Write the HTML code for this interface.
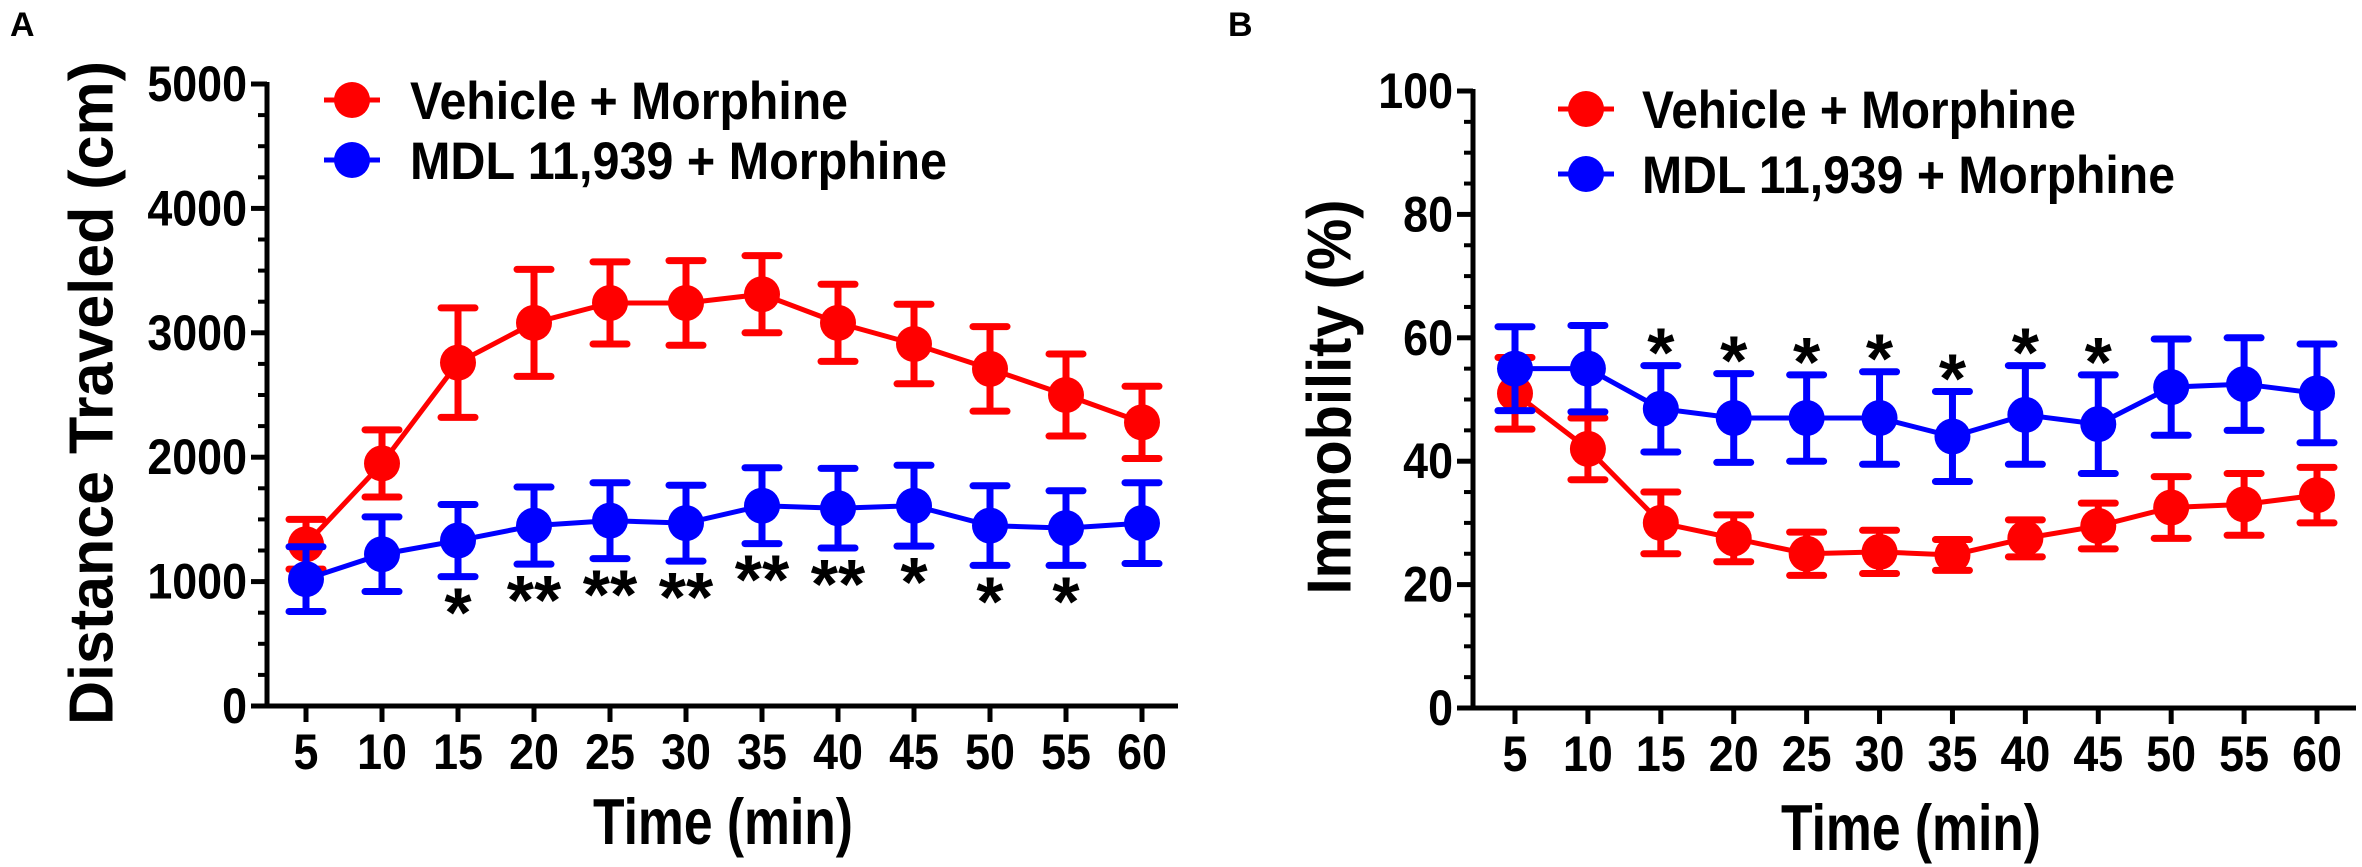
<!DOCTYPE html>
<html><head><meta charset="utf-8"><style>
html,body{margin:0;padding:0;background:#fff;}
svg{display:block;font-family:"Liberation Sans",Arial,sans-serif;font-weight:bold;}
</style></head><body>
<svg id="chart" width="2362" height="867" viewBox="0 0 2362 867"></svg>
<script>
const times=[5,10,15,20,25,30,35,40,45,50,55,60];
const distVehicle=[1300,1950,2760,3080,3240,3240,3310,3080,2910,2710,2500,2280];
const distVehicleErr=[200,270,440,430,330,340,310,310,320,340,330,290];
const distMdl=[1020,1220,1330,1450,1490,1470,1610,1590,1610,1450,1430,1470];
const distMdlErr=[260,300,290,310,305,305,305,320,325,320,300,325];
const distStars=["","","*","**","**","**","**","**","*","*","*",""];
const distTicks=[0,1000,2000,3000,4000,5000];
const immVehicle=[51,42,30,27.5,25,25.3,24.8,27.5,29.5,32.5,33,34.5];
const immVehicleErr=[5.8,5,5,3.8,3.5,3.5,2.5,3,3.7,5,5,4.5];
const immMdl=[55,55,48.5,47,47,47,44,47.5,46,52,52.5,51];
const immMdlErr=[6.8,7,7,7.2,7,7.5,7.3,8,8,7.8,7.5,8];
const immStars=["","","*","*","*","*","*","*","*","","",""];
const immTicks=[0,20,40,60,80,100];

const NS="http://www.w3.org/2000/svg";
const svg=document.getElementById('chart');
function mk(tag,attrs,parent,text){const e=document.createElementNS(NS,tag);for(const k in attrs)e.setAttribute(k,attrs[k]);if(text!==undefined)e.textContent=text;(parent||svg).appendChild(e);return e;}

function panel(cfg){
  const g=mk('g',{});
  
  
  const xs=t=>cfg.x0+(t-5)*(cfg.x1-cfg.x0)/55;
  const ys=v=>cfg.yb-(v/cfg.ymax)*(cfg.yb-cfg.yt);
  const ya=mk('line',{x1:cfg.ax,y1:cfg.yt-2,x2:cfg.ax,y2:cfg.yb+2.5,stroke:'#000','stroke-width':5},g);
  
  
  const xa=mk('line',{x1:cfg.ax-2.5,y1:cfg.yb,x2:cfg.xend,y2:cfg.yb,stroke:'#000','stroke-width':5},g);
  
  
  const minorStep=cfg.ymax/20;
  for(let i=0;i<=20;i++){const v=i*minorStep;const y=ys(v);const major=i%4===0;
    mk('line',{x1:cfg.ax-(major?16:9),y1:y,x2:cfg.ax,y2:y,stroke:'#000','stroke-width':major?5:4},g);}
  cfg.ticks.forEach(v=>{const t=mk('text',{x:0,y:0,'text-anchor':'end','font-size':40,transform:`translate(${cfg.ax-20},${ys(v)+17}) scale(1.12,1.25)`},g,String(v));
    
    });
  times.forEach(t=>{const x=xs(t);mk('line',{x1:x,y1:cfg.yb,x2:x,y2:cfg.yb+16,stroke:'#000','stroke-width':5},g);
    const l=mk('text',{x:0,y:0,'text-anchor':'middle','font-size':40,transform:`translate(${x},${cfg.yb+63}) scale(1.12,1.25)`},g,String(t));
    
    });
  const xt=mk('text',{x:0,y:0,'text-anchor':'middle','font-size':50,textLength:260,lengthAdjust:'spacingAndGlyphs',transform:`translate(${cfg.xtx},${cfg.xty+2}) scale(1,1.3)`},g,'Time (min)');
  
  
  const yt=mk('text',{x:0,y:0,'text-anchor':'middle','font-size':cfg.ytf,textLength:cfg.ytl,lengthAdjust:'spacingAndGlyphs',transform:`translate(${cfg.ytx},${cfg.yty}) rotate(-90)`,'dominant-baseline':'central'},g,cfg.ytitle);
  
  
  function series(vals,errs,col,nm){
    const sg=mk('g',{},g);
    
    
    mk('polyline',{points:vals.map((v,i)=>xs(times[i])+','+ys(v)).join(' '),fill:'none',stroke:col,'stroke-width':5},sg);
    vals.forEach((v,i)=>{const x=xs(times[i]);const hi=ys(v+errs[i]),lo=ys(v-errs[i]);
      mk('line',{x1:x,y1:hi,x2:x,y2:lo,stroke:col,'stroke-width':7},sg);
      mk('line',{x1:x-17,y1:hi,x2:x+17,y2:hi,stroke:col,'stroke-width':7,'stroke-linecap':'round'},sg);
      mk('line',{x1:x-17,y1:lo,x2:x+17,y2:lo,stroke:col,'stroke-width':7,'stroke-linecap':'round'},sg);
      const c=mk('circle',{cx:x,cy:ys(v),r:18,fill:col},sg);
      
      });
  }
  series(cfg.red,cfg.redErr,'#ff0000','vehicle-series');
  series(cfg.blue,cfg.blueErr,'#0000ff','mdl-series');
  cfg.stars.forEach((s,i)=>{if(!s)return;const v=cfg.blue[i];const e=cfg.blueErr[i];
    const y=cfg.starsBelow?ys(v-e)+33:ys(v+e)-16;
    const st=mk('text',{x:xs(times[i]),y:y+27,'text-anchor':'middle','font-size':70},g,s);
    
    });
  [[cfg.leg1y,'#ff0000','Vehicle + Morphine',cfg.lw1],[cfg.leg2y,'#0000ff','MDL 11,939 + Morphine',cfg.lw2]].forEach(([y,col,txt,w])=>{
    const lg=mk('g',{},g);
    
    
    mk('line',{x1:cfg.legx-28,y1:y,x2:cfg.legx+28,y2:y,stroke:col,'stroke-width':5},lg);
    mk('circle',{cx:cfg.legx,cy:y,r:18,fill:col},lg);
    mk('text',{x:0,y:0,'font-size':42,textLength:w,lengthAdjust:'spacingAndGlyphs',transform:`translate(${cfg.legtx},${y+19}) scale(1,1.25)`},lg,txt);
  });
  const pl=mk('text',{x:cfg.plx,y:36,'font-size':34},g,cfg.plabel);
  
  
}
panel({name:'panel-a-distance',x0:306,x1:1142,ax:267,xend:1178,yt:84,yb:706,ymax:5000,ticks:distTicks,
  red:distVehicle,redErr:distVehicleErr,blue:distMdl,blueErr:distMdlErr,stars:distStars,starsBelow:true,
  xtx:723,xty:842,ytitle:'Distance Traveled (cm)',ytx:92,yty:393,ytf:62,ytl:664,
  legx:352,legtx:410,leg1y:100,leg2y:160,lw1:438,lw2:537,plabel:'A',plx:10});
panel({name:'panel-b-immobility',x0:1515,x1:2317,ax:1473,xend:2356,yt:91,yb:708,ymax:100,ticks:immTicks,
  red:immVehicle,redErr:immVehicleErr,blue:immMdl,blueErr:immMdlErr,stars:immStars,starsBelow:false,
  xtx:1911,xty:848,ytitle:'Immobility (%)',ytx:1330,yty:397,ytf:62,ytl:395,
  legx:1586,legtx:1642,leg1y:109,leg2y:174,lw1:434,lw2:533,plabel:'B',plx:1228});
</script>
</body></html>
